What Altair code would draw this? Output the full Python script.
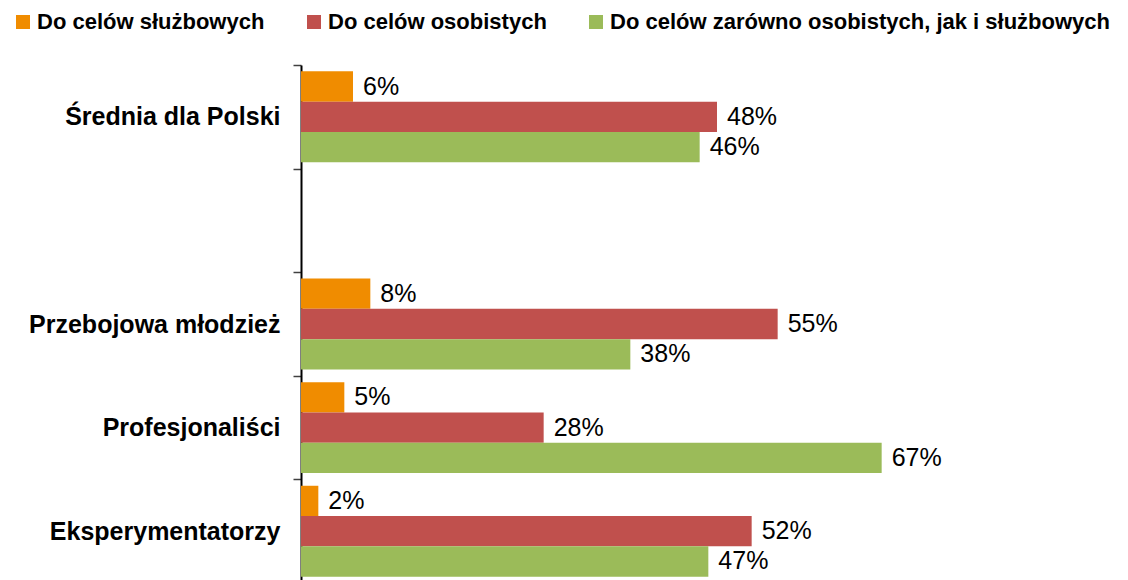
import altair as alt
import pandas as pd

categories = ["Średnia dla Polski", " ", "Przebojowa młodzież", "Profesjonaliści", "Eksperymentatorzy"]
groups = ["Średnia dla Polski", "Przebojowa młodzież", "Profesjonaliści", "Eksperymentatorzy"]
series = ["Do celów służbowych", "Do celów osobistych", "Do celów zarówno osobistych, jak i służbowych"]
colors = ["#F08C00", "#C0504D", "#9BBB59"]

sluzbowe = [6, 8, 5, 2]
osobiste = [48, 55, 28, 52]
oba = [46, 38, 67, 47]

rows = []
for i, g in enumerate(groups):
    for s, vals in zip(series, [sluzbowe, osobiste, oba]):
        rows.append({"kategoria": g, "seria": s, "wartosc": vals[i], "etykieta": f"{vals[i]}%"})
df = pd.DataFrame(rows)

FONT = "Liberation Sans"

y_enc = alt.Y("kategoria:N", scale=alt.Scale(domain=categories, paddingInner=0, paddingOuter=0),
              axis=alt.Axis(title=None, domainColor="black", domainWidth=2, tickColor="#404040",
                            tickSize=8, tickWidth=1.5, tickBand="extent", labelFontSize=25,
                            labelFont=FONT, labelFontWeight="bold", labelColor="black",
                            labelPadding=13, labelLimit=0, grid=False))
yoff = alt.YOffset("seria:N", sort=series, scale=alt.Scale(domain=series, paddingInner=0, paddingOuter=0.21))
x_enc = alt.X("wartosc:Q", scale=alt.Scale(domain=[0, 90], nice=False), axis=None)

bars = alt.Chart(df).mark_bar(cornerRadius=0).encode(
    y=y_enc, yOffset=yoff, x=x_enc,
    color=alt.Color("seria:N", sort=series, scale=alt.Scale(domain=series, range=colors),
                    legend=alt.Legend(title=None, orient="none", legendX=-289, legendY=-54,
                                      direction="horizontal", symbolType="square", symbolSize=196,
                                      symbolStrokeWidth=0, labelFontSize=22, labelFont=FONT,
                                      labelFontWeight="bold", labelColor="black", columnPadding=38,
                                      labelOffset=3, labelLimit=0, padding=0)),
)

labels = alt.Chart(df).mark_text(align="left", baseline="middle", dx=10, fontSize=25,
                                 font=FONT, color="black").encode(
    y=alt.Y("kategoria:N", scale=alt.Scale(domain=categories, paddingInner=0, paddingOuter=0)),
    yOffset=yoff, x=x_enc, text="etykieta:N",
)

chart = alt.layer(bars, labels).properties(
    width=780, height=518,
    padding={"left": 293, "top": 57, "right": 39, "bottom": 10},
    autosize=alt.AutoSizeParams(type="none"),
).configure_view(stroke=None)

chart.save("out.html", embed_options={"renderer": "svg", "actions": False})
